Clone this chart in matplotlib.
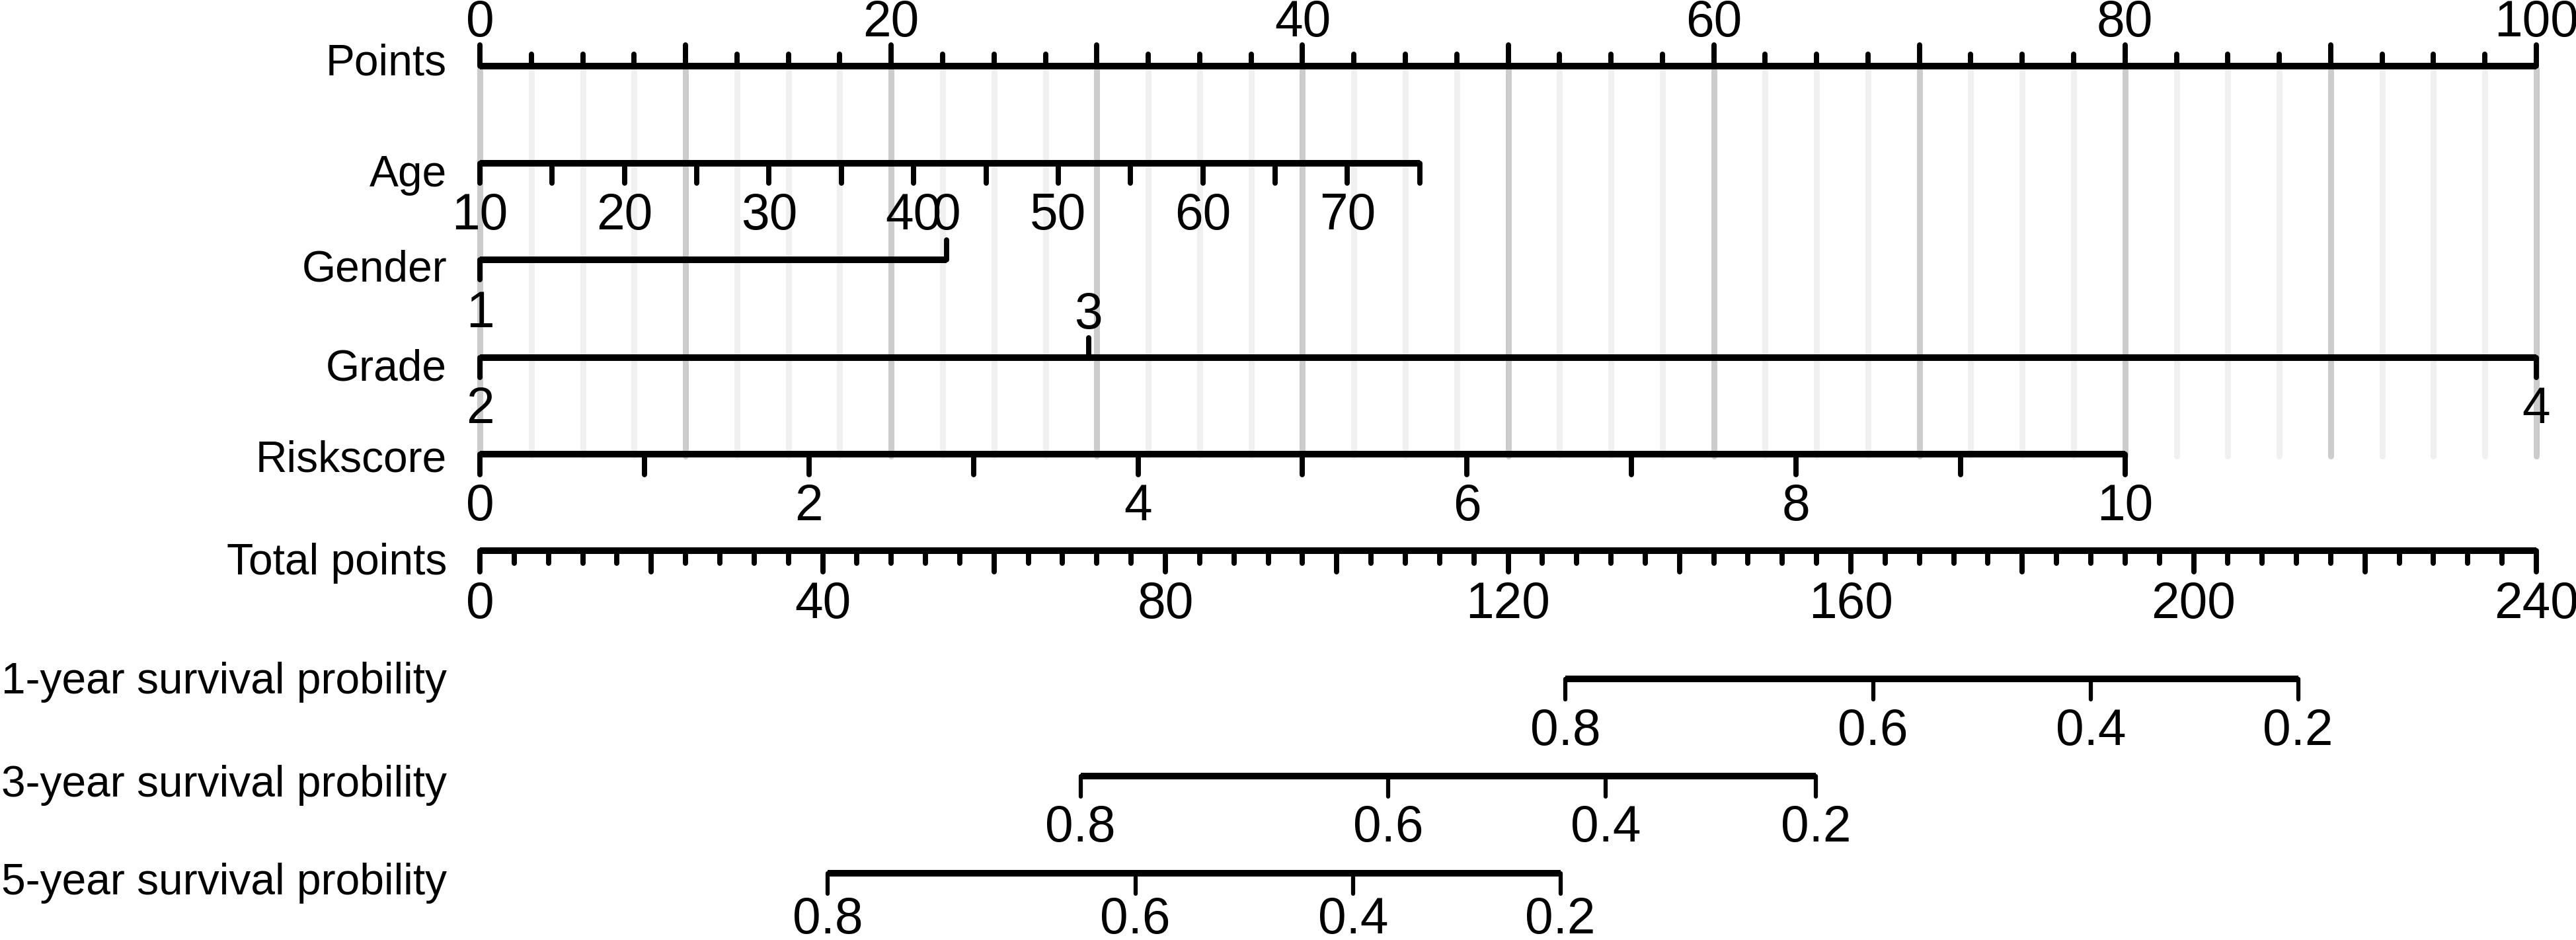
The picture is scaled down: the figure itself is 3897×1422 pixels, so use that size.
import matplotlib
matplotlib.use("Agg")
import matplotlib.pyplot as plt
import numpy as np

plt.rcParams['font.family'] = ['Liberation Sans', 'DejaVu Sans']

# ---- data ----
points_labels = [0, 20, 40, 60, 80, 100]

age_ticks = [10, 15, 20, 25, 30, 35, 40, 45, 50, 55, 60, 65, 70, 75]
age_labels = [10, 20, 30, 40, 50, 60, 70]
age_min, age_max = 10, 75
age_max_points = 45.7

gender_levels = ["1", "0"]
gender_points = [0, 22.7]
gender_side = ["below", "above"]

grade_levels = ["2", "3", "4"]
grade_points = [0, 29.6, 100]
grade_side = ["below", "above", "below"]

riskscore_ticks = [0, 1, 2, 3, 4, 5, 6, 7, 8, 9, 10]
riskscore_labels = [0, 2, 4, 6, 8, 10]
riskscore_max_points = 80

total_labels = [0, 40, 80, 120, 160, 200, 240]
total_max = 240

surv_probs = [0.8, 0.6, 0.4, 0.2]
surv_1yr_total = [126.7, 162.6, 188.0, 212.2]
surv_3yr_total = [70.1, 106.0, 131.4, 155.9]
surv_5yr_total = [40.6, 76.5, 101.9, 126.1]

# ---- layout (pixel rows) ----
W, H, DPI = 3897, 1422, 300
fig = plt.figure(figsize=(W / DPI, H / DPI), dpi=DPI)
ax = fig.add_axes([0, 0, 1, 1])
px = 31.11  # pixels per point
ax.set_xlim(-726 / px, (W - 726) / px)
ax.set_ylim(H, 0)
ax.axis('off')

LAB = 15.8
TICK = 18.4
LW = 2.4
TW = 1.9
label_x = (676 - 726) / px


def hline(y, x0, x1):
    ax.plot([x0, x1], [y, y], color='black', lw=LW, solid_capstyle='butt', zorder=3)


def tick(x, y, length, lw=TW):
    ax.plot([x, x], [y, y + length], color='black', lw=lw, solid_capstyle='round', zorder=3)


def tlabel(x, base, s):
    ax.text(x, base, s, ha='center', va='baseline', fontsize=TICK, zorder=4)


def rlabel(base, s):
    ax.text(label_x, base, s, ha='right', va='baseline', fontsize=LAB, zorder=4)


# grid
for g in np.arange(0, 100.01, 2.5):
    col = '#CCCCCC' if g % 10 == 0 else '#F0F0F0'
    ax.plot([g, g], [104, 690], color=col, lw=2.16, zorder=1, solid_capstyle='round')

# Points
y = 100
hline(y, 0, 100)
for v in np.arange(0, 100.01, 2.5):
    tick(v, y, -32 if v % 10 == 0 else -18)
for v in points_labels:
    tlabel(v, 55, str(v))
rlabel(113, "Points")

# Age
y = 247
k = age_max_points / (age_max - age_min)
hline(y, 0, age_max_points)
for a in age_ticks:
    tick((a - age_min) * k, y, 30)
for a in age_labels:
    tlabel((a - age_min) * k, 347, str(a))
rlabel(282, "Age")

# Gender
y = 393
hline(y, min(gender_points), max(gender_points))
for lev, p, side in zip(gender_levels, gender_points, gender_side):
    if side == "above":
        tick(p, y, -30)
        tlabel(p, 347, lev)
    else:
        tick(p, y, 30)
        tlabel(p, 495, lev)
rlabel(425, "Gender")

# Grade
y = 541
hline(y, min(grade_points), max(grade_points))
for lev, p, side in zip(grade_levels, grade_points, grade_side):
    if side == "above":
        tick(p, y, -30)
        tlabel(p, 497, lev)
    else:
        tick(p, y, 30)
        tlabel(p, 640, lev)
rlabel(575, "Grade")

# Riskscore
y = 687
kr = riskscore_max_points / max(riskscore_ticks)
hline(y, 0, riskscore_max_points)
for r in riskscore_ticks:
    tick(r * kr, y, 31)
for r in riskscore_labels:
    tlabel(r * kr, 787, str(r))
rlabel(713, "Riskscore")

# Total points
y = 833
kt = 100 / total_max
hline(y, 0, 100)
for t in range(0, total_max + 1, 4):
    tick(t * kt, y, 32 if t % 20 == 0 else 19)
for t in total_labels:
    tlabel(t * kt, 935, str(t))
rlabel(869, "Total points")

# survival scales
surv_rows = [
    ("1-year survival probility", surv_1yr_total, 1027, 1127, 1049),
    ("3-year survival probility", surv_3yr_total, 1174, 1273, 1205),
    ("5-year survival probility", surv_5yr_total, 1321, 1412, 1353),
]
for name, tot, yl, base, nbase in surv_rows:
    xs = [t * kt for t in tot]
    hline(yl, min(xs), max(xs))
    for x, p in zip(xs, surv_probs):
        tick(x, yl, 31, lw=1.5)
        tlabel(x, base, str(p))
    rlabel(nbase, name)

fig.savefig("out.png", dpi=DPI)
